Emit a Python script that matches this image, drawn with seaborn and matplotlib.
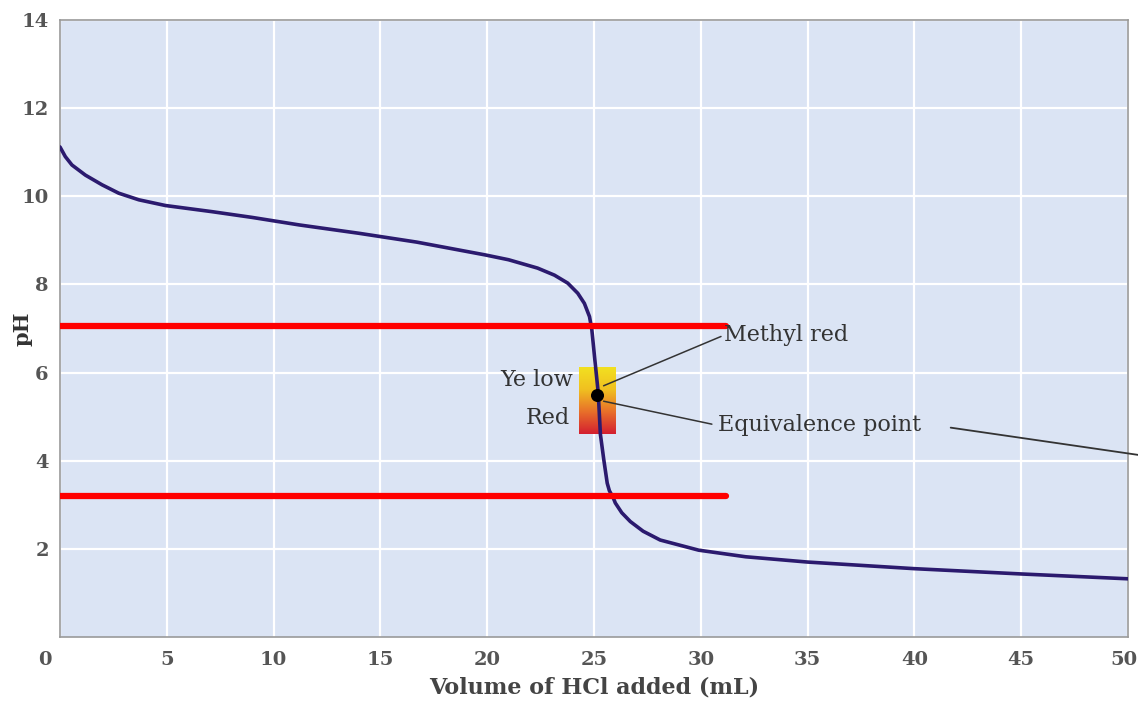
import numpy as np
import pandas as pd
import matplotlib
matplotlib.use("Agg")
import matplotlib.pyplot as plt
import matplotlib.transforms as mtransforms
import seaborn as sns
from matplotlib.colors import LinearSegmentedColormap

# ---- data ----
volume = [0.0, 0.25, 0.56, 1.19, 1.97, 2.75, 3.69, 4.94, 6.19, 7.13, 9.0, 11.2, 14.0, 16.7, 19.9, 21.0,
          22.36, 23.15, 23.77, 24.24, 24.55, 24.79, 24.9, 25.04, 25.2, 25.3, 25.46, 25.62, 25.72, 25.9,
          26.0, 26.3, 26.7, 27.3, 28.1, 29.9, 32.1, 35.0, 40.0, 45.0, 50.0]
ph = [11.12, 10.9, 10.71, 10.48, 10.26, 10.07, 9.92, 9.79, 9.71, 9.65, 9.52, 9.35, 9.16, 8.96, 8.67, 8.56,
      8.37, 8.21, 8.03, 7.80, 7.57, 7.27, 6.97, 6.29, 5.54, 4.6, 4.02, 3.49, 3.32, 3.16,
      3.04, 2.82, 2.62, 2.4, 2.2, 1.97, 1.82, 1.70, 1.55, 1.43, 1.32]

red_line_levels = [7.05, 3.2]
red_line_end = 31.2
indicator_x = [24.3, 26.0]
indicator_ph = [4.6, 6.1]
equiv_point = (25.15, 5.5)
x_ticks = [0, 5, 10, 15, 20, 25, 30, 35, 40, 45, 50]
y_ticks = [2, 4, 6, 8, 10, 12, 14]

df = pd.DataFrame({"Volume of HCl added (mL)": volume, "pH": ph})

sns.set_theme(style="whitegrid", rc={
    "axes.facecolor": "#dbe4f4",
    "grid.color": "white",
    "grid.linewidth": 1.6,
    "axes.edgecolor": "#9a9a9a",
})
plt.rcParams["font.family"] = ["DejaVu Serif"]

fig = plt.figure(figsize=(11.38, 7.04), dpi=100)
ax = fig.add_axes([0.0527, 0.0952, 0.9385, 0.8764])

sns.lineplot(data=df, x="Volume of HCl added (mL)", y="pH", ax=ax, color="#2b1a6e",
             linewidth=2.6, zorder=4, solid_joinstyle="round", solid_capstyle="round")

ax.set_xlim(0, 50)
ax.set_ylim(0, 14)
ax.set_xticks(x_ticks)
ax.set_yticks(y_ticks)
ax.tick_params(axis="both", labelsize=14, colors="#555555", length=0)
ax.tick_params(axis="x", pad=10)
ax.tick_params(axis="y", pad=8)
for lab in ax.get_xticklabels() + ax.get_yticklabels():
    lab.set_fontweight("bold")
xlabs = ax.get_xticklabels()
xlabs[0].set_transform(xlabs[0].get_transform() +
                       mtransforms.ScaledTranslation(-15 / 100, 0, fig.dpi_scale_trans))
xlabs[-1].set_transform(xlabs[-1].get_transform() +
                        mtransforms.ScaledTranslation(-4 / 100, 0, fig.dpi_scale_trans))

ax.set_xlabel("Volume of HCl added (mL)", fontsize=16, fontweight="bold", color="#444444")
ax.set_ylabel("pH", fontsize=15, fontweight="bold", color="#333333")
ax.xaxis.set_label_coords(0.5, -0.064)
ax.yaxis.set_label_coords(-0.026, 0.5)
for s in ["top", "right", "left", "bottom"]:
    ax.spines[s].set_linewidth(1.2)

# indicator gradient box (yellow top -> red bottom)
cmap = LinearSegmentedColormap.from_list("mr", ["#d42030", "#e8702a", "#f0c020", "#f2e020"])
grad = np.linspace(0, 1, 100).reshape(-1, 1)
ax.imshow(grad, extent=[indicator_x[0], indicator_x[1], indicator_ph[0], indicator_ph[1]],
          origin="lower", cmap=cmap, aspect="auto", zorder=3)

# red horizontal lines
ax.hlines(red_line_levels, 0, red_line_end, colors="#ff0000", linewidth=4.5,
          capstyle="round", zorder=5)

# equivalence point
ax.scatter([equiv_point[0]], [equiv_point[1]], s=70, color="black", zorder=6)

# labels
ax.text(24.0, 5.83, "Ye low", ha="right", va="center", fontsize=16, color="#333333", zorder=6)
ax.text(23.9, 4.97, "Red", ha="right", va="center", fontsize=16, color="#333333", zorder=6)

ax.annotate("Methyl red", xy=(25.45, 5.7), xytext=(31.1, 6.85), fontsize=16, color="#333333",
            va="center", ha="left",
            arrowprops=dict(arrowstyle="-", color="#333333", lw=1.1, shrinkA=0, shrinkB=0,
                            relpos=(0, 0.5)), zorder=6)
ax.annotate("Equivalence point", xy=(25.45, 5.35), xytext=(30.8, 4.8), fontsize=16, color="#333333",
            va="center", ha="left",
            arrowprops=dict(arrowstyle="-", color="#333333", lw=1.1, shrinkA=2, shrinkB=0,
                            relpos=(0, 0.5)), zorder=6)
ax.annotate("", xy=(50.5, 4.13), xytext=(41.7, 4.75), annotation_clip=False,
            arrowprops=dict(arrowstyle="-", color="#333333", lw=1.3, shrinkA=0, shrinkB=0))

fig.savefig("out.png", dpi=100)
